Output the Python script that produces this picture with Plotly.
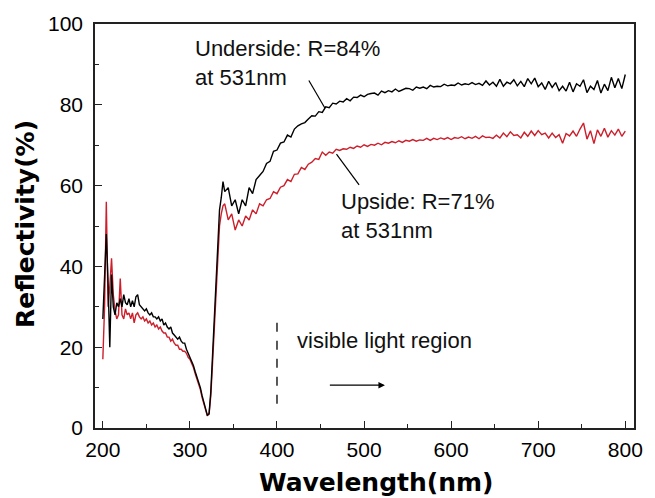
import plotly.graph_objects as go

# ---------------- data ----------------
wl_uv = list(range(200, 340, 2))          # 200..338 nm, 2 nm steps
wl_vis = list(range(340, 801, 4))         # 340..800 nm, 4 nm steps
wavelength = wl_uv + wl_vis

underside_uv = [27, 40, 48, 36, 20, 38, 30, 28, 31, 30,
                32, 30, 33, 31, 30.5, 32, 30, 31.5, 30, 32.5,
                33, 30.5, 30, 29.5, 29, 29.5, 28.5, 28, 28.5, 27.5,
                27.5, 27, 27.5, 26.5, 27, 25.5, 26, 25, 24.5, 25,
                23.5, 23, 22.5, 22, 22.5, 21.5, 21, 21, 19.5, 18.5,
                17.5, 16.5, 15.5, 14, 12.6, 11.5, 10, 8, 6.5, 4.5,
                3.2, 3.5, 9, 18, 27, 37, 48, 54, 57, 61]
underside_vis = [58.5, 59.5, 55, 56.5, 53, 56.5, 55, 59.5, 58, 61.5,
                 62.5, 63.5, 65.5, 66, 68.5, 68.8, 70.5, 70.8, 72.5, 72,
                 74, 74.8, 75.3, 75.6, 76.5, 77.3, 77.2, 78.3, 78.1, 79.5,
                 79.3, 80.4, 80.2, 80.9, 80.7, 81.5, 81, 81.9, 81.8, 82.4,
                 82, 82.6, 82.8, 82.9, 82.4, 83.4, 83, 83.5, 83.2, 83.9,
                 83.3, 83.8, 84.1, 84, 83.6, 84.4, 84.1, 84.4, 84, 84.8,
                 84.4, 84.6, 84.5, 85.1, 84.7, 84.9, 84.8, 85.4, 84.9, 85.2,
                 85, 85.5, 85, 85.3, 84.8, 85.9, 84.9, 85.6, 84.6, 86.3,
                 84.6, 85.6, 85.2, 86.2, 84.7, 85.8, 84.5, 86.5, 85.2, 86.6,
                 84.5, 85.4, 83.8, 85.8, 84.3, 85.5, 83.5, 84.6, 83.4, 85.6,
                 83.2, 85.2, 84.6, 86.2, 83, 84.6, 83.8, 86, 82.9, 85.1,
                 83.5, 86.8, 84.2, 86.5, 84, 87.5]

upside_uv = [17, 30, 56, 30, 35, 42, 33, 29, 27, 28,
             37, 28, 27, 29.5, 28, 28.5, 27, 28.5, 26, 28,
             28.5, 27.5, 27, 27.5, 26.5, 27, 26, 26.5, 25.5, 26,
             25, 25.5, 24.5, 25, 24, 23.5, 23.5, 22.5, 22.5, 21.5,
             22, 21, 20.5, 20.5, 19.5, 19.5, 19, 19, 18.5, 17.5,
             17, 16, 15, 13.5, 12.3, 11, 9.5, 7.5, 6, 4.2,
             3, 3.5, 8, 16, 25, 34, 44, 50, 53, 55]
upside_vis = [55.5, 51.5, 53, 49, 51.5, 50, 52.5, 51.5, 54, 53,
              55.5, 55, 56.5, 56.8, 58.5, 58, 59.6, 60, 61.5, 61,
              62.8, 62.9, 64.5, 64, 65.3, 65.8, 66.7, 66.5, 68.3, 67.5,
              68.3, 68, 69, 68.7, 69.1, 69, 69.5, 69.2, 69.8, 69.5,
              70.1, 69.7, 70.2, 70, 70.5, 70.1, 70.7, 70.5, 70.9, 70.6,
              71.1, 70.7, 71.2, 71, 71.4, 71, 71.3, 71.2, 71.7, 71.2,
              71.7, 71.4, 71.8, 71.5, 71.9, 71.4, 71.9, 71.7, 72.1, 71.6,
              72, 71.7, 72.2, 71.6, 72.3, 71.9, 72, 71.7, 72.5, 71.8,
              73, 72.1, 73.3, 72.4, 72.6, 71.8, 73.2, 72.2, 73.5, 72.4,
              73.6, 72.6, 73, 71.8, 73, 71.9, 72.6, 70.5, 72.9, 72.3,
              73.5, 72.2, 74, 75.5, 71.5, 73.6, 70.4, 73.8, 72.2, 74.2,
              72, 73.6, 72.5, 74, 72.2, 73.5]

underside = underside_uv + underside_vis
upside = upside_uv + upside_vis

x_ticks = [200, 300, 400, 500, 600, 700, 800]
y_ticks = [0, 20, 40, 60, 80, 100]

# ---------------- figure ----------------
fig = go.Figure()
fig.add_trace(go.Scatter(x=wavelength, y=upside, mode="lines",
                         line=dict(color="#cc1f2b", width=1.4), name="Upside"))
fig.add_trace(go.Scatter(x=wavelength, y=underside, mode="lines",
                         line=dict(color="#000000", width=1.4), name="Underside"))

tick_font = dict(family="Liberation Sans, Arial", size=21, color="#000")
ann_font = dict(family="Liberation Sans, Arial", size=22, color="#111")
title_font = dict(family="DejaVu Sans", size=25, color="#000", weight="bold")

axis_common = dict(showline=True, linecolor="#222", linewidth=1.6, mirror=True,
                   ticks="inside", ticklen=7, tickwidth=1.4, tickcolor="#222",
                   showgrid=False, zeroline=False, tickfont=tick_font)

fig.update_xaxes(range=[191, 810], tickvals=x_ticks, ticklabelstandoff=2,
                 minor=dict(ticks="inside", ticklen=4, dtick=50, tick0=0,
                            tickwidth=1.4, tickcolor="#222", showgrid=False),
                 **axis_common)
fig.update_yaxes(range=[0, 100], tickvals=y_ticks, ticklabelstandoff=6,
                 minor=dict(ticks="inside", ticklen=4, dtick=10, tick0=0,
                            tickwidth=1.4, tickcolor="#222", showgrid=False),
                 **axis_common)

annotations = [
    dict(x=0.521, y=-0.135, xref="paper", yref="paper", text="Wavelength(nm)",
         showarrow=False, font=title_font, xanchor="center", yanchor="middle"),
    dict(x=-0.128, y=0.505, xref="paper", yref="paper", text="Reflectivity(%)",
         showarrow=False, font=title_font, textangle=-90,
         xanchor="center", yanchor="middle"),
    dict(x=304, y=90.3, xref="x", yref="y", text="Underside: R=84%<br>at 531nm",
         showarrow=False, font=ann_font, xanchor="left", yanchor="middle", align="left"),
    dict(x=471.7, y=52.4, xref="x", yref="y", text="Upside: R=71%<br>at 531nm",
         showarrow=False, font=ann_font, xanchor="left", yanchor="middle", align="left"),
    dict(x=420.8, y=21.6, xref="x", yref="y", text="visible light region",
         showarrow=False, font=ann_font, xanchor="left", yanchor="middle"),
    dict(x=524, y=10.6, ax=459, ay=10.6, xref="x", yref="y", axref="x", ayref="y",
         text="", showarrow=True, arrowhead=2, arrowsize=1, arrowwidth=1.3,
         arrowcolor="#000"),
]

shapes = [
    dict(type="line", x0=400, x1=400, y0=6, y1=27, xref="x", yref="y",
         line=dict(color="#000", width=1.3, dash="dash")),
    dict(type="line", x0=436.6, y0=86.0, x1=455, y1=79.2, xref="x", yref="y",
         line=dict(color="#000", width=1.2)),
    dict(type="line", x0=468.3, y0=67.8, x1=494.3, y1=60.2, xref="x", yref="y",
         line=dict(color="#000", width=1.2)),
]

fig.update_layout(width=655, height=498, margin=dict(l=95, r=13, t=21, b=70),
                  plot_bgcolor="white", paper_bgcolor="white", showlegend=False,
                  annotations=annotations, shapes=shapes)

fig.write_html("out.html", config={"displayModeBar": False},
               post_script="document.body.style.margin='0';"
                           "document.body.style.padding='0';"
                           "document.body.style.overflow='hidden';")
